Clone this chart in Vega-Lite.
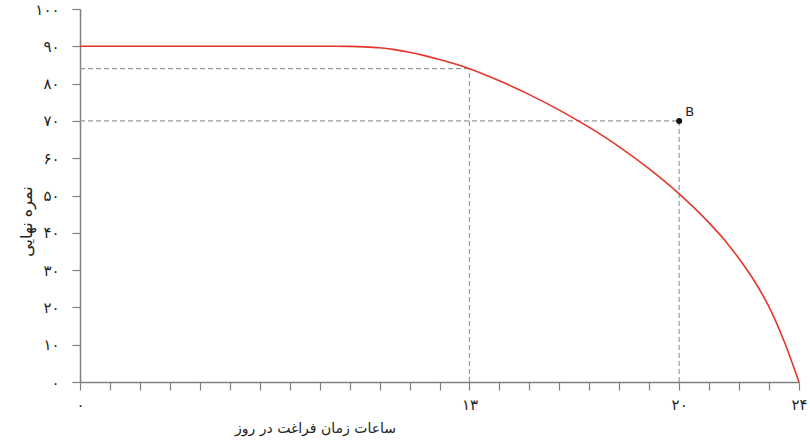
{
  "$schema": "https://vega.github.io/schema/vega-lite/v6.json",
  "width": 719,
  "height": 373,
  "autosize": {"type": "none"},
  "padding": {"left": 80, "top": 9, "right": 11, "bottom": 63},
  "background": "white",
  "config": {
    "view": {"stroke": null},
    "font": "DejaVu Sans",
    "axis": {
      "grid": false,
      "domainColor": "#7f7f7f",
      "domainWidth": 1.5,
      "tickColor": "#7f7f7f",
      "tickWidth": 1.2,
      "tickSize": 8,
      "labelColor": "#222222",
      "titleColor": "#222222",
      "labelFont": "DejaVu Sans",
      "titleFont": "DejaVu Sans",
      "titleFontWeight": "normal",
      "labelFontSize": 15,
      "titleFontSize": 14
    }
  },
  "datasets": {
    "curve": [
      {"h": 0, "score": 90},
      {"h": 8.5, "score": 90},
      {"h": 9, "score": 89.97},
      {"h": 9.5, "score": 89.85},
      {"h": 10, "score": 89.6},
      {"h": 10.5, "score": 89.1},
      {"h": 11, "score": 88.4},
      {"h": 11.5, "score": 87.5},
      {"h": 12, "score": 86.45},
      {"h": 12.5, "score": 85.3},
      {"h": 13, "score": 84},
      {"h": 14, "score": 80.75},
      {"h": 15, "score": 77.05},
      {"h": 16, "score": 72.9},
      {"h": 17, "score": 68.25},
      {"h": 18, "score": 63.05},
      {"h": 19, "score": 57.15},
      {"h": 20, "score": 50.45},
      {"h": 21, "score": 42.65},
      {"h": 21.5, "score": 38.2},
      {"h": 22, "score": 33.05},
      {"h": 22.5, "score": 27.2},
      {"h": 23, "score": 20.15},
      {"h": 23.5, "score": 11},
      {"h": 24, "score": 0}
    ],
    "guides": [
      {"h": 0, "score": 84, "h2": 13, "score2": 84},
      {"h": 13, "score": 0, "h2": 13, "score2": 84},
      {"h": 0, "score": 70, "h2": 20, "score2": 70},
      {"h": 20, "score": 0, "h2": 20, "score2": 70}
    ],
    "points": [
      {"h": 20, "score": 70, "label": "B"}
    ]
  },
  "encoding": {
    "x": {"field": "h", "type": "quantitative", "scale": {"domain": [0, 24], "nice": false},
      "axis": {
        "title": "ساعات زمان فراغت در روز",
        "values": [0,1,2,3,4,5,6,7,8,9,10,11,12,13,14,15,16,17,18,19,20,21,22,23,24],
        "labelExpr": "datum.value == 0 ? '۰' : datum.value == 13 ? '۱۳' : datum.value == 20 ? '۲۰' : datum.value == 24 ? '۲۴' : ''",
        "labelOverlap": false,
        "labelFlush": false,
        "labelBound": false,
        "labelPadding": 7,
        "titleX": 235,
        "titleY": 46,
        "titleAlign": "center",
        "titleBaseline": "middle"
      }
    },
    "y": {"field": "score", "type": "quantitative", "scale": {"domain": [0, 100], "nice": false},
      "axis": {
        "title": "نمره نهایی",
        "titleFontSize": 16,
        "values": [0,10,20,30,40,50,60,70,80,90,100],
        "labelExpr": "datum.value == 0 ? '۰' : datum.value == 10 ? '۱۰' : datum.value == 20 ? '۲۰' : datum.value == 30 ? '۳۰' : datum.value == 40 ? '۴۰' : datum.value == 50 ? '۵۰' : datum.value == 60 ? '۶۰' : datum.value == 70 ? '۷۰' : datum.value == 80 ? '۸۰' : datum.value == 90 ? '۹۰' : '۱۰۰'",
        "labelPadding": 13,
        "labelOverlap": false,
        "labelFlush": false,
        "titleX": -54,
        "titleY": 212,
        "titleAngle": -90,
        "titleAlign": "center",
        "titleBaseline": "middle"
      }
    }
  },
  "layer": [
    {
      "data": {"name": "guides"},
      "mark": {"type": "rule", "color": "#999999", "strokeWidth": 1.2, "strokeDash": [5, 3]},
      "encoding": {
        "x2": {"field": "h2"},
        "y2": {"field": "score2"}
      }
    },
    {
      "data": {"name": "curve"},
      "mark": {"type": "line", "color": "#e3352a", "strokeWidth": 1.6, "interpolate": "monotone"},
      "encoding": {}
    },
    {
      "data": {"name": "points"},
      "mark": {"type": "circle", "color": "#111111", "size": 36, "opacity": 1},
      "encoding": {}
    },
    {
      "data": {"name": "points"},
      "mark": {"type": "text", "align": "left", "baseline": "bottom", "dx": 6, "dy": -2, "fontSize": 13, "color": "#222222", "font": "DejaVu Sans"},
      "encoding": {
        "text": {"field": "label"}
      }
    }
  ]
}
